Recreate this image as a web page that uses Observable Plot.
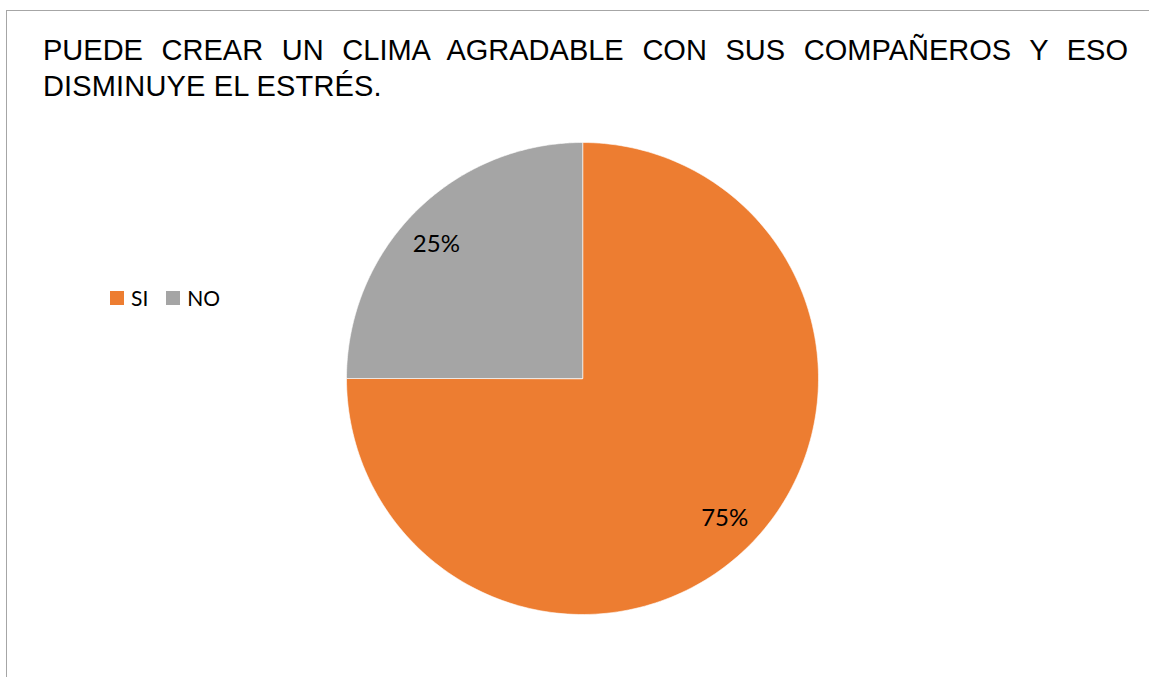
<!DOCTYPE html>
<html>
<head>
<meta charset="utf-8">
<script src="https://cdn.jsdelivr.net/npm/d3@7"></script>
<script src="https://cdn.jsdelivr.net/npm/@observablehq/plot@0.6"></script>
<style>
  html, body { margin: 0; padding: 0; background: #fff; }
  #wrap { position: relative; width: 1149px; height: 677px; overflow: hidden; background: #fff; }
  #frame { position: absolute; left: 6px; top: 10px; width: 1200px; height: 800px; border-top: 1.5px solid #a6a6a6; border-left: 1.5px solid #a6a6a6; box-sizing: border-box; }
  .title { position: absolute; left: 43px; width: 1085px; font-family: "Liberation Sans", Arial, sans-serif; font-size: 29px; color: #000; white-space: nowrap; line-height: 36px; }
  #t1 { top: 32px; text-align: justify; text-align-last: justify; white-space: normal; }
  #t2 { top: 68px; letter-spacing: 0.15px; }
  #legend { position: absolute; left: 110px; top: 285px; font-family: Lato, "Open Sans", sans-serif; font-size: 21px; color: #000; display: flex; align-items: center; }
  #legend .sw { width: 14px; height: 14px; display: inline-block; margin-right: 7px; }
  #legend .item { display: flex; align-items: center; margin-right: 18px; }
  #chart { position: absolute; left: 0; top: 0; }
</style>
</head>
<body>
<div id="wrap">
  <div id="frame"></div>
  <div id="chart"></div>
  <div class="title" id="t1">PUEDE CREAR UN CLIMA AGRADABLE CON SUS COMPAÑEROS Y ESO</div>
  <div class="title" id="t2">DISMINUYE EL ESTRÉS.</div>
  <div id="legend"></div>
</div>
<script>
const categories = ["SI", "NO"];
const values = [75, 25];
const labels = ["75%", "25%"];
const colors = ["#ED7D31", "#A5A5A5"];

const data = categories.map((c, i) => ({cat: c, value: values[i], label: labels[i]}));
const arcs = d3.pie().sort(null).value(d => d.value)(data);

// wedge outlines in unit coordinates (angle measured clockwise from 12 o'clock)
const wedges = [];
for (const a of arcs) {
  const n = 200;
  wedges.push({cat: a.data.cat, x: 0, y: 0});
  for (let k = 0; k <= n; k++) {
    const t = a.startAngle + (a.endAngle - a.startAngle) * k / n;
    wedges.push({cat: a.data.cat, x: Math.sin(t), y: Math.cos(t)});
  }
}
const labelPts = arcs.map(a => {
  const m = (a.startAngle + a.endAngle) / 2;
  return {cat: a.data.cat, label: a.data.label, x: 0.84 * Math.sin(m), y: 0.84 * Math.cos(m)};
});

const labelFont = "Lato, 'Open Sans', sans-serif";
const plot = Plot.plot({
  width: 1149,
  height: 677,
  marginLeft: 346,
  marginRight: 331,
  marginTop: 142,
  marginBottom: 63,
  x: {domain: [-1, 1], axis: null},
  y: {domain: [-1, 1], axis: null},
  color: {domain: categories, range: colors},
  style: {background: "transparent"},
  marks: [
    Plot.line(wedges, {x: "x", y: "y", z: "cat", fill: "cat", stroke: "white", strokeWidth: 0.6, curve: "linear-closed"}),
    Plot.text(labelPts.filter(d => d.cat === "SI"), {x: "x", y: "y", text: "label", fontSize: 24, fontFamily: labelFont, fill: "#000", dx: 2}),
    Plot.text(labelPts.filter(d => d.cat === "NO"), {x: "x", y: "y", text: "label", fontSize: 24, fontFamily: labelFont, fill: "#000", dx: -6, dy: 6})
  ]
});
document.getElementById("chart").appendChild(plot);

const legend = document.getElementById("legend");
categories.forEach((c, i) => {
  const item = document.createElement("span");
  item.className = "item";
  const sw = document.createElement("span");
  sw.className = "sw";
  sw.style.background = colors[i];
  item.appendChild(sw);
  item.appendChild(document.createTextNode(c));
  legend.appendChild(item);
});
</script>
</body>
</html>
